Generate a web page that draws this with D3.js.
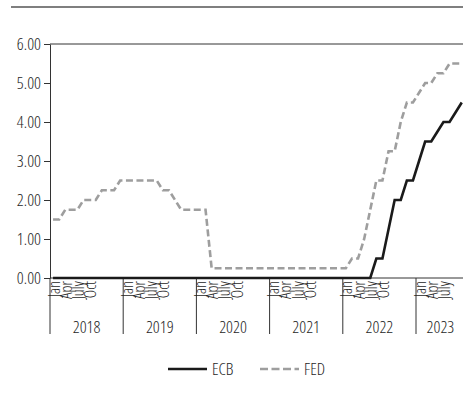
<!DOCTYPE html>
<html>
<head>
<meta charset="utf-8">
<script src="https://cdn.jsdelivr.net/npm/d3@7"></script>
<style>
  body { margin: 0; background: #fff; }
  svg text { font-family: "Open Sans", "Liberation Sans", sans-serif; font-stretch: 75%; font-weight: 300; fill: #1e1e1e; }
  .axis path, .axis line { stroke: #333; }
</style>
</head>
<body>
<div id="chart"></div>
<script>
// Datos: tipos de interés mensuales, ene 2018 - ago 2023
const years = ["2018", "2019", "2020", "2021", "2022", "2023"]
const monthLabels = ["Jan", "Apr", "July", "Oct"]
const yTicks = [0, 1, 2, 3, 4, 5, 6]

const ecbRates = [
    0, 0, 0, 0, 0, 0, 0, 0, 0, 0, 0, 0,
    0, 0, 0, 0, 0, 0, 0, 0, 0, 0, 0, 0,
    0, 0, 0, 0, 0, 0, 0, 0, 0, 0, 0, 0,
    0, 0, 0, 0, 0, 0, 0, 0, 0, 0, 0, 0,
    0, 0, 0, 0, 0, 0.5, 0.5, 1.25, 2.0, 2.0, 2.5, 2.5,
    3.0, 3.5, 3.5, 3.75, 4.0, 4.0, 4.25, 4.5
]
const fedRates = [
    1.5, 1.5, 1.75, 1.75, 1.75, 2.0, 2.0, 2.0, 2.25, 2.25, 2.25, 2.5,
    2.5, 2.5, 2.5, 2.5, 2.5, 2.5, 2.25, 2.25, 2.0, 1.75, 1.75, 1.75,
    1.75, 1.75, 0.25, 0.25, 0.25, 0.25, 0.25, 0.25, 0.25, 0.25, 0.25, 0.25,
    0.25, 0.25, 0.25, 0.25, 0.25, 0.25, 0.25, 0.25, 0.25, 0.25, 0.25, 0.25,
    0.25, 0.5, 0.5, 1.0, 1.75, 2.5, 2.5, 3.25, 3.25, 4.0, 4.5, 4.5,
    4.75, 5.0, 5.0, 5.25, 5.25, 5.5, 5.5, 5.5
]
const seriesNames = ["ECB", "FED"]

// ----------------------------------------------------------

const width = 463
const height = 404
const margin = { top: 44, left: 50, bottom: 126 }
const monthW = 6.1

const svg = d3.select("div#chart").append("svg")
    .attr("width", width)
    .attr("height", height)

const months = d3.range(ecbRates.length)

const x = d3.scaleBand().domain(months)
    .range([margin.left, margin.left + months.length * monthW])
const y = d3.scaleLinear().domain([0, 6])
    .range([height - margin.bottom, margin.top])

// Línea superior
svg.append("line")
    .attr("x1", 11).attr("x2", width)
    .attr("y1", 7).attr("y2", 7)
    .attr("stroke", "#555").attr("stroke-width", 1.5)

// Línea en 6.00
svg.append("line")
    .attr("x1", margin.left).attr("x2", width)
    .attr("y1", y(6)).attr("y2", y(6))
    .attr("stroke", "#333")

// Eje y
const yAxis = d3.axisLeft(y).tickValues(yTicks).tickFormat(d3.format(".2f"))
    .tickSize(6).tickSizeOuter(0).tickPadding(3)
svg.append("g").attr("class", "axis")
    .attr("transform", `translate(${margin.left},0)`)
    .call(yAxis)
    .call(g => g.selectAll("text").style("font-size", "17px").attr("fill", "#1e1e1e"))

// Eje x: base
svg.append("line")
    .attr("x1", margin.left).attr("x2", width)
    .attr("y1", y(0)).attr("y2", y(0))
    .attr("stroke", "#333")

// Separadores de año y etiquetas
years.forEach((yr, i) => {
    const x0 = x(i * 12)
    const nMonths = Math.min(12, months.length - i * 12)
    svg.append("line")
        .attr("x1", x0).attr("x2", x0)
        .attr("y1", y(0)).attr("y2", y(0) + 56)
        .attr("stroke", "#333")
    svg.append("text").text(yr)
        .attr("x", x0 + nMonths * monthW / 2)
        .attr("y", y(0) + 55)
        .attr("text-anchor", "middle")
        .style("font-size", "17px")
    monthLabels.forEach((m, j) => {
        if (j * 3 >= nMonths) return
        const mx = x(i * 12 + j * 2) + x.bandwidth() / 2 + 1
        svg.append("text").text(m)
            .attr("transform", `translate(${mx},${y(0) + 3}) rotate(-90)`)
            .attr("text-anchor", "end")
            .attr("dy", "0.35em")
            .style("font-size", "16px")
    })
})

// Líneas
const line = d3.line()
    .x(d => x(d.i) + x.bandwidth() / 2)
    .y(d => y(d.v))

svg.append("path")
    .datum(fedRates.map((v, i) => ({ i, v })))
    .attr("d", line)
    .attr("fill", "none")
    .attr("stroke", "#9e9e9e")
    .attr("stroke-width", 2.6)
    .attr("stroke-dasharray", "7,3.5")

svg.append("path")
    .datum(ecbRates.map((v, i) => ({ i, v })))
    .attr("d", line)
    .attr("fill", "none")
    .attr("stroke", "#1a1a1a")
    .attr("stroke-width", 2.6)

// Leyenda
const legend = svg.append("g").attr("transform", "translate(168,369)")
seriesNames.forEach((s, i) => {
    const lx = i * 92
    legend.append("line")
        .attr("x1", lx).attr("x2", lx + 39)
        .attr("y1", 0).attr("y2", 0)
        .attr("stroke", i === 0 ? "#1a1a1a" : "#9e9e9e")
        .attr("stroke-width", 2.6)
        .attr("stroke-dasharray", i === 0 ? null : "8,3.5")
    legend.append("text").text(s)
        .attr("x", lx + 44)
        .attr("dy", "0.35em")
        .style("font-size", "17px")
})
</script>
</body>
</html>
